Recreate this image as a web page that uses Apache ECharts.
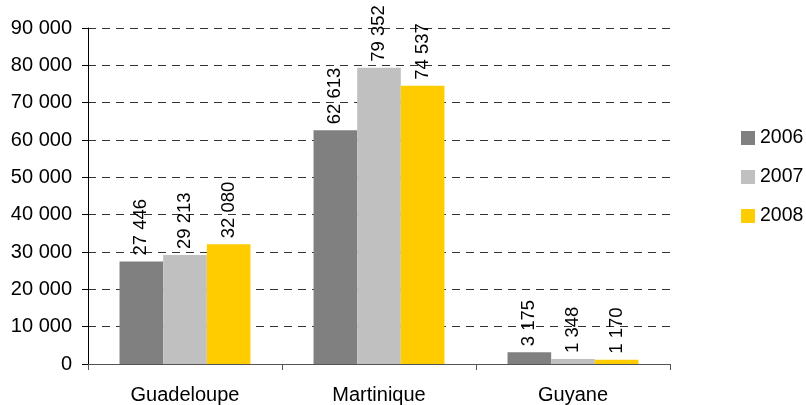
<!DOCTYPE html>
<html>
<head>
<meta charset="utf-8">
<script src="https://cdn.jsdelivr.net/npm/echarts@6/dist/echarts.min.js"></script>
<style>html,body{margin:0;padding:0;background:#fff}#c{width:806px;height:405px}</style>
</head>
<body>
<div id="c"></div>
<script>
var categories = ['Guadeloupe', 'Martinique', 'Guyane'];
var seriesNames = ['2006', '2007', '2008'];
var values2006 = [27446, 62613, 3175];
var values2007 = [29213, 79352, 1348];
var values2008 = [32080, 74537, 1170];
var colors = ['#808080', '#C0C0C0', '#FFCC00'];

var font = 'Liberation Sans, Arial, sans-serif';
function fmt(v) { return String(v).replace(/\B(?=(\d{3})+(?!\d))/g, ' '); }

var allValues = [values2006, values2007, values2008];
var series = seriesNames.map(function (n, i) {
  return {
    name: n, type: 'bar', data: allValues[i], barGap: '0%', barCategoryGap: '32.5%',
    itemStyle: { color: colors[i] },
    label: {
      show: true, position: 'top', rotate: 90, align: 'left', verticalAlign: 'middle',
      distance: 6, color: '#000', fontFamily: font, fontSize: 18.5,
      formatter: function (p) { return fmt(p.value); }
    }
  };
});

var chart = echarts.init(document.getElementById('c'), null, { renderer: 'canvas' });
chart.setOption({
  animation: false,
  color: colors,
  grid: { left: 88, right: 136, top: 28, bottom: 39, containLabel: false },
  legend: {
    orient: 'vertical', left: 741, top: 128, padding: 0, itemWidth: 14, itemHeight: 14, itemGap: 19,
    icon: 'rect', data: seriesNames,
    textStyle: { fontFamily: font, fontSize: 19.5, color: '#000', padding: 0 }
  },
  xAxis: {
    type: 'category', data: categories,
    axisLine: { lineStyle: { color: '#555', width: 1 } },
    axisTick: { show: true, length: 6, lineStyle: { color: '#555' } },
    axisLabel: { fontFamily: font, fontSize: 20, color: '#000', margin: 21 }
  },
  yAxis: {
    type: 'value', min: 0, max: 90000, interval: 10000,
    axisLine: { show: true, lineStyle: { color: '#000', width: 1 } },
    axisTick: { show: true, length: 6, lineStyle: { color: '#000' } },
    axisLabel: { fontFamily: font, fontSize: 20, color: '#000', margin: 16, formatter: fmt },
    splitLine: { show: true, lineStyle: { color: '#333', type: [8, 6], width: 1 } }
  },
  series: series
});
</script>
</body>
</html>
